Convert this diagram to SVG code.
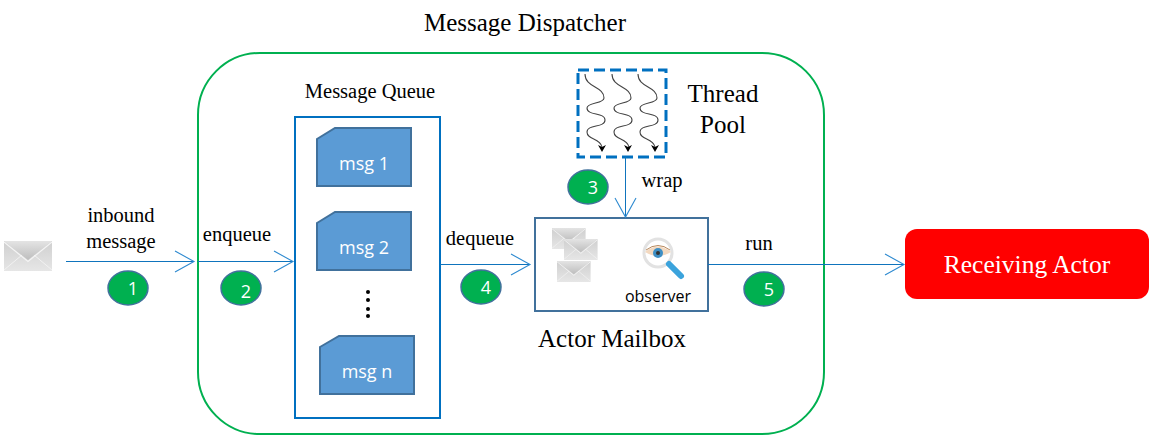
<svg xmlns="http://www.w3.org/2000/svg" width="1149" height="435" viewBox="0 0 1149 435">
<style>
.serif{font-family:"Liberation Serif","Times New Roman",serif;fill:#000}
.sans{font-family:"Open Sans","Noto Sans","Liberation Sans",sans-serif}
.conn{fill:none;stroke:#0f74bd;stroke-width:1}
.badge{fill:#00b050;stroke:#41719c;stroke-width:1.5}
.badgeT{font-family:"Open Sans","Noto Sans",sans-serif;font-size:18px;fill:#fff;text-anchor:middle}
.msg{fill:#5b9bd5;stroke:#41719c;stroke-width:2}
.msgT{font-family:"Open Sans","Noto Sans",sans-serif;font-size:18px;fill:#fff;text-anchor:middle}
.env{fill:url(#envBody)}
.th{fill:none;stroke:#444;stroke-width:1.1}
.tip{fill:#000}
.lbl{font-size:20.500px;text-anchor:middle}
</style>
<defs>
<linearGradient id="envBody" x1="0" y1="0" x2="0" y2="1">
<stop offset="0" stop-color="#cfcfcf"/><stop offset="1" stop-color="#e6e6e6"/>
</linearGradient>
<linearGradient id="envFlap" x1="0" y1="0" x2="0" y2="1">
<stop offset="0" stop-color="#e4e4e4"/><stop offset="1" stop-color="#bdbdbd"/>
</linearGradient>
<marker id="open" markerWidth="22" markerHeight="24" refX="20" refY="12" orient="auto" markerUnits="userSpaceOnUse">
<path d="M1 1.500L20 12L1 22.500" fill="none" stroke="#2e8ad0" stroke-width="1.100"/>
</marker>
<g id="envelope">
<rect class="env" x="0" y="0" width="48" height="30"/>
<path d="M0 29L18 14M48 29L30 14" stroke="#f2f2f2" stroke-width="1" fill="none"/>
<path d="M0 0L24 19L48 0Z" fill="url(#envFlap)"/>
<path d="M0 1L24 20.500L48 1" fill="none" stroke="#f4f4f4" stroke-width="1.200"/>
</g>
<path id="wave" d="M0 0C0 14 19 12 19 24C19 30 2 28 2 34C2 42 20 38 20 46C20 54 2 50 2 58C2 66 15 64 17 73"/>
</defs>

<g id="dispatcher">
<rect x="198" y="53" width="626" height="381" rx="62" ry="62" fill="#fff" stroke="#00b050" stroke-width="2"/>
<text class="serif" x="525" y="31" font-size="25" text-anchor="middle">Message Dispatcher</text>
</g>

<g id="queue">
<rect x="295" y="117" width="145" height="301" fill="#fff" stroke="#0070c0" stroke-width="2"/>
<text class="serif" x="370" y="98" font-size="20.500" text-anchor="middle">Message Queue</text>
</g>

<g id="msg1">
<path class="msg" d="M317 139L335 128H411V186H317Z"/>
<text class="msgT" x="364" y="170">msg 1</text>
</g>
<g id="msg2">
<path class="msg" d="M317 223L335 212H411V270H317Z"/>
<text class="msgT" x="364" y="254">msg 2</text>
</g>
<g id="dots">
<circle cx="368" cy="292" r="2" fill="#000"/>
<circle cx="368" cy="300" r="2" fill="#000"/>
<circle cx="368" cy="309" r="2" fill="#000"/>
<circle cx="368" cy="316" r="2" fill="#000"/>
</g>
<g id="msgn">
<path class="msg" d="M320 347L339 336H414V394H320Z"/>
<text class="msgT" x="367" y="378">msg n</text>
</g>

<g id="threadpool">
<rect x="578" y="70" width="88" height="87" fill="#fff" stroke="#0070c0" stroke-width="3" stroke-dasharray="11 5"/>
<g class="th">
<use href="#wave" x="585" y="74"/>
<use href="#wave" x="612" y="74"/>
<use href="#wave" x="638" y="74"/>
</g>
<path class="tip" d="M598 145l4 2l4-2l-4 7ZM624 145l4 2l4-2l-4 7ZM651 145l4 2l4-2l-4 7Z"/>
<text class="serif" x="723" y="102" font-size="25" text-anchor="middle">Thread</text>
<text class="serif" x="723" y="133" font-size="25" text-anchor="middle">Pool</text>
</g>

<g id="mailbox">
<rect x="535" y="218" width="173" height="93" fill="#fff" stroke="#41719c" stroke-width="2"/>
<use href="#envelope" transform="translate(552 228) scale(.7)"/>
<use href="#envelope" transform="translate(564 239) scale(.7)"/>
<use href="#envelope" transform="translate(557 261) scale(.7)"/>
<circle cx="658" cy="253" r="14" fill="#fff" stroke="#e2e2e2" stroke-width="3"/>
<path d="M645 252Q658 241 671 252Q658 260 645 252Z" fill="#f3d9c0"/>
<path d="M646 250Q658 241 670 250" fill="none" stroke="#b88a5f" stroke-width="1"/>
<circle cx="658" cy="253" r="5" fill="#3f8fc4"/>
<circle cx="658" cy="253" r="2" fill="#333"/>
<path d="M669 264L681 276" stroke="#3ba3dc" stroke-width="6" stroke-linecap="round"/>
<text class="sans" x="658" y="302" font-size="16" text-anchor="middle" fill="#000">observer</text>
<text class="serif" x="612" y="347" font-size="25" text-anchor="middle">Actor Mailbox</text>
</g>

<g id="actor">
<rect x="905" y="229" width="244" height="70" rx="12" ry="12" fill="#ff0000"/>
<text x="1027" y="273" font-family="Liberation Serif,serif" font-size="25.500" fill="#fff" text-anchor="middle">Receiving Actor</text>
</g>

<g id="inbound">
<use href="#envelope" transform="translate(4 241)"/>
</g>

<g id="connectors">
<path class="conn" marker-end="url(#open)" d="M66 261.500H194"/>
<path class="conn" marker-end="url(#open)" d="M198 261.500H293"/>
<path class="conn" marker-end="url(#open)" d="M440 264.500H530"/>
<path class="conn" marker-end="url(#open)" d="M625.500 157V217"/>
<path class="conn" marker-end="url(#open)" d="M708 264.500H904"/>
</g>

<g id="labels">
<text class="serif lbl" x="121" y="222">inbound</text>
<text class="serif lbl" x="121" y="248">message</text>
<text class="serif lbl" x="237" y="241">enqueue</text>
<text class="serif lbl" x="480" y="245">dequeue</text>
<text class="serif lbl" x="662" y="187">wrap</text>
<text class="serif lbl" x="759" y="250">run</text>
</g>

<g id="badge1"><ellipse class="badge" cx="128" cy="288" rx="20" ry="17"/><text class="badgeT" x="133" y="295">1</text></g>
<g id="badge2"><ellipse class="badge" cx="241" cy="288" rx="20" ry="17"/><text class="badgeT" x="246" y="298">2</text></g>
<g id="badge3"><ellipse class="badge" cx="588" cy="187" rx="20" ry="17"/><text class="badgeT" x="593" y="194">3</text></g>
<g id="badge4"><ellipse class="badge" cx="481" cy="287" rx="20" ry="17"/><text class="badgeT" x="486" y="294">4</text></g>
<g id="badge5"><ellipse class="badge" cx="764" cy="289" rx="20" ry="17"/><text class="badgeT" x="769" y="296">5</text></g>
</svg>
